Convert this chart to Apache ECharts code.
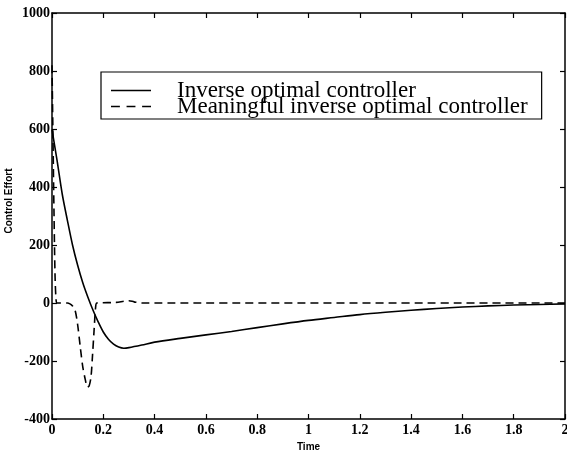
<!DOCTYPE html>
<html>
<head>
<meta charset="utf-8">
<script src="https://cdn.jsdelivr.net/npm/echarts@6/dist/echarts.min.js"></script>
<style>
  html, body { margin: 0; padding: 0; background: #fff; }
  #main { width: 567px; height: 453px; }
</style>
</head>
<body>
<div id="main"></div>
<script>
// values
var solidTime  = [0, 0.02, 0.04, 0.06, 0.08, 0.10, 0.12, 0.14, 0.16, 0.18, 0.20, 0.22, 0.24, 0.26, 0.28, 0.30, 0.35, 0.4, 0.5, 0.6, 0.7, 0.8, 0.9, 1.0, 1.1, 1.2, 1.3, 1.4, 1.5, 1.6, 1.7, 1.8, 1.9, 2.0];
var solidValue = [598, 490, 375, 285, 200, 130, 70, 20, -25, -65, -100, -125, -142, -152, -156, -154, -145, -135, -122, -110, -98, -85, -72, -60, -50, -40, -32, -25, -19, -14, -10, -7, -5, -3];

var dashedTime  = [0, 0.004, 0.008, 0.012, 0.016, 0.02, 0.06, 0.07, 0.08, 0.09, 0.10, 0.11, 0.12, 0.13, 0.138, 0.145, 0.152, 0.158, 0.164, 0.17, 0.175, 0.25, 0.28, 0.30, 0.32, 0.35, 2.0];
var dashedValue = [820, 560, 300, 90, 10, 0, 0, -3, -10, -25, -75, -150, -220, -265, -290, -285, -255, -180, -95, -15, 0, 2, 6, 8, 4, 0, 0];

var seriesNames = ['Inverse optimal controller', 'Meaningful inverse optimal controller'];

function pairs(xs, ys) {
  return xs.map(function (x, i) { return [x, ys[i]]; });
}

var chart = echarts.init(document.getElementById('main'));

var tickFont = {
  color: '#000',
  fontFamily: 'Liberation Serif',
  fontWeight: 'bold',
  fontSize: 14
};

var option = {
  backgroundColor: '#fff',
  animation: false,
  grid: { left: 52, right: 2, top: 13, bottom: 34, containLabel: false, outerBoundsMode: 'none' },
  legend: {
    orient: 'vertical',
    left: 101,
    top: 72,
    padding: [7, 14, 1, 10],
    itemGap: -7,
    itemWidth: 40,
    itemHeight: 14,
    borderColor: '#000',
    borderWidth: 1.2,
    backgroundColor: '#fff',
    textStyle: {
      color: '#000',
      fontFamily: 'Liberation Serif',
      fontSize: 23,
      lineHeight: 22,
      padding: [0, 0, 0, 21]
    },
    data: [
      { name: seriesNames[0], icon: 'path://M0,0 L40,0 L40,1.5 L0,1.5 Z' },
      { name: seriesNames[1], icon: 'path://M0,0 L8,0 L8,1.5 L0,1.5 Z M14,0 L22,0 L22,1.5 L14,1.5 Z M28,0 L36,0 L36,1.5 L28,1.5 Z' }
    ]
  },
  xAxis: [{
    type: 'value',
    min: 0, max: 2, interval: 0.2,
    name: 'Time',
    nameLocation: 'middle',
    nameGap: 23,
    nameMoveOverlap: false,
    nameTextStyle: { color: '#000', fontFamily: 'Liberation Sans', fontWeight: 'bold', fontSize: 10 },
    axisLine: { onZero: false, lineStyle: { color: '#000', width: 1.5 } },
    axisTick: { inside: true, length: 5, lineStyle: { color: '#000', width: 1.2 } },
    axisLabel: Object.assign({ margin: 4 }, tickFont),
    splitLine: { show: false }
  }, {
    type: 'value',
    position: 'top',
    min: 0, max: 2, interval: 0.2,
    axisLine: { onZero: false, lineStyle: { color: '#000', width: 1.5 } },
    axisTick: { inside: true, length: 5, lineStyle: { color: '#000', width: 1.2 } },
    axisLabel: { show: false },
    splitLine: { show: false }
  }],
  yAxis: [{
    type: 'value',
    min: -400, max: 1000, interval: 200,
    name: 'Control Effort',
    nameLocation: 'middle',
    nameGap: 38,
    nameMoveOverlap: false,
    nameTextStyle: { color: '#000', fontFamily: 'Liberation Sans', fontWeight: 'bold', fontSize: 10, padding: [0, 0, 0, 30] },
    axisLine: { onZero: false, lineStyle: { color: '#000', width: 1.5 } },
    axisTick: { inside: true, length: 5, lineStyle: { color: '#000', width: 1.2 } },
    axisLabel: Object.assign({ margin: 2, formatter: function (v) { return String(v); } }, tickFont),
    splitLine: { show: false }
  }, {
    type: 'value',
    position: 'right',
    min: -400, max: 1000, interval: 200,
    axisLine: { onZero: false, lineStyle: { color: '#000', width: 1.5 } },
    axisTick: { inside: true, length: 5, lineStyle: { color: '#000', width: 1.2 } },
    axisLabel: { show: false },
    splitLine: { show: false }
  }],
  series: [{
    name: seriesNames[0],
    type: 'line',
    smooth: 0.3,
    showSymbol: false,
    data: pairs(solidTime, solidValue),
    lineStyle: { color: '#000', width: 1.6, type: 'solid' },
    itemStyle: { color: '#000' }
  }, {
    name: seriesNames[1],
    type: 'line',
    smooth: 0.3,
    showSymbol: false,
    data: pairs(dashedTime, dashedValue),
    lineStyle: { color: '#000', width: 1.6, type: [8, 5] },
    itemStyle: { color: '#000' }
  }]
};

chart.setOption(option);
</script>
</body>
</html>
